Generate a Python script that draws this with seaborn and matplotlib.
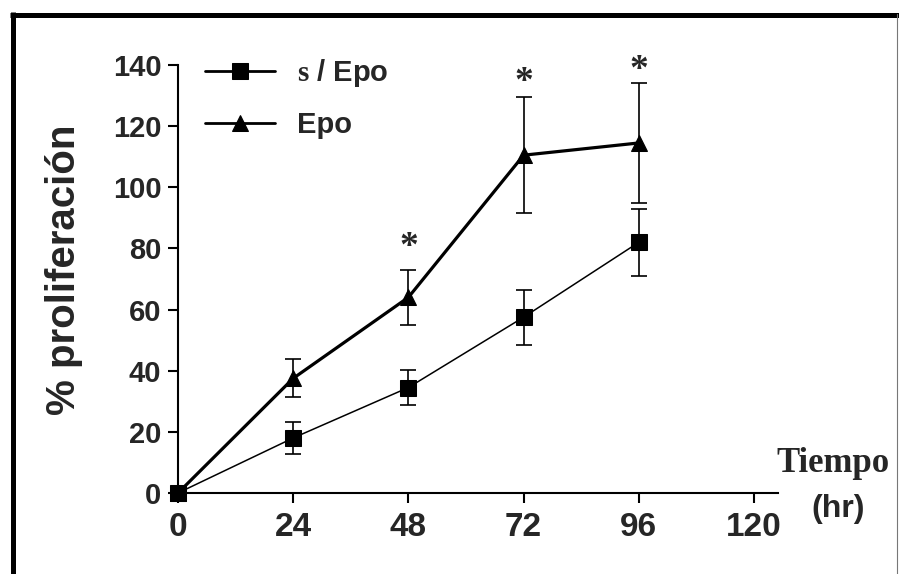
import matplotlib
matplotlib.use("Agg")
import matplotlib.pyplot as plt
from matplotlib.lines import Line2D
from matplotlib.transforms import offset_copy
import seaborn as sns
import pandas as pd

# ---- data ----
hours = [0, 24, 48, 72, 96]
s_epo = [0, 18, 34.5, 57.5, 82]
s_epo_err = [0, 5.3, 5.8, 9, 11]
epo = [0, 37.5, 64, 110.5, 114.5]
epo_err = [0, 6.2, 9, 19, 19.5]
sig_x = [48, 72, 96]
sig_y = [83, 137, 141]
xticks = [0, 24, 48, 72, 96, 120]
yticks = [0, 20, 40, 60, 80, 100, 120, 140]

sns.set_theme(style="white")
plt.rcParams["font.family"] = ["Liberation Sans", "DejaVu Sans"]
plt.rcParams["mathtext.fontset"] = "custom"
plt.rcParams["mathtext.rm"] = "Liberation Serif:bold"

fig = plt.figure(figsize=(8.99, 5.74), dpi=100)
W, H = 899, 574
ax = fig.add_axes([178 / W, 1 - 493 / H, 600 / W, 428 / H])

df1 = pd.DataFrame({"t": hours, "v": s_epo})
df2 = pd.DataFrame({"t": hours, "v": epo})

ax.errorbar(hours, s_epo, yerr=s_epo_err, fmt="none", ecolor="black",
            elinewidth=1.2, capsize=6, capthick=1.2, clip_on=False, zorder=2)
ax.errorbar(hours, epo, yerr=epo_err, fmt="none", ecolor="black",
            elinewidth=1.2, capsize=6, capthick=1.2, clip_on=False, zorder=2)
sns.lineplot(data=df1, x="t", y="v", ax=ax, color="black", linewidth=1.1,
             marker="s", markersize=12, markeredgecolor="black", clip_on=False,
             zorder=3, label=r"$\mathrm{s}$ / Epo")
sns.lineplot(data=df2, x="t", y="v", ax=ax, color="black", linewidth=2.3,
             marker="^", markersize=11, markeredgecolor="black", clip_on=False,
             zorder=3, label="Epo")

star_tr = offset_copy(ax.transData, fig=fig, x=0, y=-6, units="points")
for x, y in zip(sig_x, sig_y):
    ax.text(x, y, "*", ha="center", va="center", fontsize=27,
            family="Liberation Serif", fontweight="bold", clip_on=False,
            transform=star_tr)

ax.set_xlim(0, 125)
ax.set_ylim(0, 140)
ax.set_xticks(xticks)
ax.set_yticks(yticks)
ax.set_xlabel("")
ax.set_ylabel("% proliferación", fontsize=29, fontweight="bold", va="center")
ax.yaxis.set_label_coords(-0.19, 0.521)

for s in ["top", "right"]:
    ax.spines[s].set_visible(False)
for s in ["left", "bottom"]:
    ax.spines[s].set_color("black")
    ax.spines[s].set_linewidth(1.5)

ax.tick_params(axis="both", direction="out", color="black", width=1.5,
               length=7, left=True, bottom=True)
ax.tick_params(axis="y", labelsize=21, pad=5)
ax.tick_params(axis="x", labelsize=24, pad=7)
for lab in ax.get_xticklabels() + ax.get_yticklabels():
    lab.set_fontweight("bold")

leg = ax.legend(loc="upper left", bbox_to_anchor=(205 / W, 1 - 57 / H),
                bbox_transform=fig.transFigure, frameon=False,
                prop={"weight": "bold", "size": 21}, handlelength=2.4,
                handletextpad=0.75, labelspacing=0.75, borderpad=0,
                borderaxespad=0)
for h in leg.get_lines():
    h.set_linewidth(2.0)

fig.text(833 / W, 1 - 472 / H, "Tiempo", ha="center", va="baseline",
         family="Liberation Serif", fontweight="bold", fontsize=25)
fig.text(838 / W, 1 - 509 / H, "(hr)", ha="center", va="center",
         fontweight="bold", fontsize=23)

# outer frame
fig.add_artist(Line2D([10 / W, 1], [1 - 14.5 / H, 1 - 14.5 / H],
                      transform=fig.transFigure, color="black", linewidth=3.6,
                      solid_capstyle="butt"))
fig.add_artist(Line2D([13 / W, 13 / W], [0, 1 - 12 / H],
                      transform=fig.transFigure, color="black", linewidth=3.6,
                      solid_capstyle="butt"))
fig.add_artist(Line2D([897 / W, 897 / W], [0, 1 - 14 / H],
                      transform=fig.transFigure, color="#777777", linewidth=0.8))

fig.savefig("out.png", dpi=100)
